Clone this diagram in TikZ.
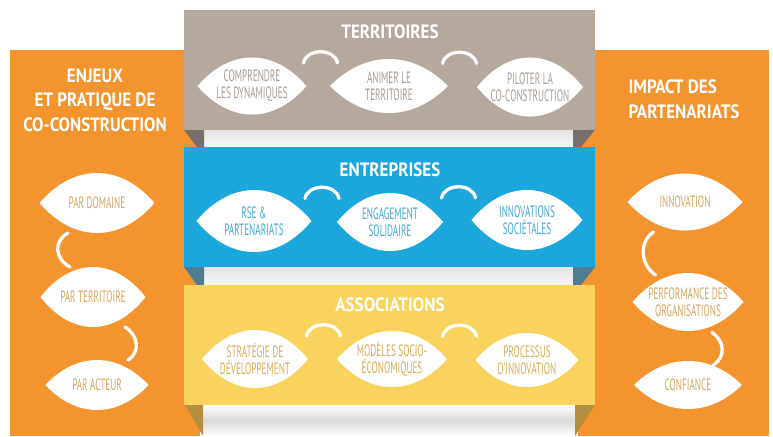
\documentclass[tikz,border=0pt]{standalone}
\usepackage{fontspec}
\newfontfamily\titlefont[FakeStretch=0.88]{PT Sans}
\newfontfamily\leaffont[FakeStretch=0.56]{PT Sans}
\usetikzlibrary{calc}
\definecolor{panelorange}{HTML}{F3942F}
\definecolor{terrgrey}{HTML}{B5A99D}
\definecolor{terrfold}{HTML}{77706A}
\definecolor{terrtext}{HTML}{A89E94}
\definecolor{entblue}{HTML}{1BA7DB}
\definecolor{entfold}{HTML}{4E7C90}
\definecolor{enttext}{HTML}{45A9D5}
\definecolor{assoyellow}{HTML}{FAD35E}
\definecolor{assofold}{HTML}{B48F3F}
\definecolor{assotext}{HTML}{D8AD55}
\definecolor{sidetext}{HTML}{D8A562}
\def\pxu{0.03cm}

\begin{document}
\begin{tikzpicture}[x=0.03cm,y=-0.03cm,
  title/.style={text=white,font=\titlefont\bfseries\fontsize{16.5}{21}\selectfont,align=center},
  leaf/.style 2 args={minimum width=#1*\pxu,minimum height=#2*\pxu,inner sep=0pt,align=center,
    font=\leaffont\fontsize{14}{14.5}\selectfont,
    path picture={\fill[white] ($(path picture bounding box.center)+(-#1/2,0)$)
      .. controls +(0.3*#1,-0.667*#2) and +(-0.3*#1,-0.667*#2) .. ($(path picture bounding box.center)+(#1/2,0)$)
      .. controls +(-0.3*#1,0.667*#2) and +(0.3*#1,0.667*#2) .. ($(path picture bounding box.center)+(-#1/2,0)$);}},
  link/.style={white,line width=2.8pt,line cap=round},
  gap/.style={top color=gray!22,bottom color=gray!6}]

\fill[white] (0,0) rectangle (773,436);
\useasboundingbox (0,0) rectangle (773,436);

% side panels
\fill[panelorange] (10,50) rectangle (200,436);
\fill[panelorange] (578,50) rectangle (769,436);

% shadows and folds behind the bands
\shade[gap] (204,130) rectangle (573,147);
\shade[gap] (204,267) rectangle (573,285);
\shade[top color=white,bottom color=white,middle color=gray!30] (202,405) rectangle (575,436);
\fill[terrfold] (184,130) -- (204,130) -- (204,147) -- (197,147) -- cycle;
\fill[terrfold] (573,130) -- (595,130) -- (581,147) -- (573,147) -- cycle;
\fill[entfold] (184,267) -- (204,267) -- (204,285) -- (197,285) -- cycle;
\fill[entfold] (573,267) -- (595,267) -- (581,285) -- (573,285) -- cycle;
\fill[assofold] (185,405) -- (203,405) -- (203,436) -- cycle;
\fill[assofold] (575,405) -- (595,405) -- (575,436) -- cycle;

% bands
\fill[terrgrey] (184,10) rectangle (595,130);
\fill[entblue] (184,147) rectangle (595,267);
\fill[assoyellow] (184,285) rectangle (595,405);

% titles
\node[title] (territoires) at (390,32) {TERRITOIRES};
\node[title] (entreprises) at (390,170) {ENTREPRISES};
\node[title] (associations) at (390,305) {ASSOCIATIONS};
\node[title] (enjeux) at (95,100) {ENJEUX\\ET PRATIQUE DE\\CO-CONSTRUCTION};
\node[title,align=left] (impact) at (684,99) {IMPACT DES\\PARTENARIATS};

% leaves
\begin{scope}[text=terrtext]
\node[leaf={109}{57}] (comprendre) at (252,86) {COMPRENDRE\\LES DYNAMIQUES};
\node[leaf={118}{54}] (animer) at (389,86) {ANIMER LE\\TERRITOIRE};
\node[leaf={106}{59}] (piloter) at (530,87) {PILOTER LA\\CO-CONSTRUCTION};
\end{scope}
\begin{scope}[text=enttext]
\node[leaf={115}{62}] (rse) at (254,221) {RSE \&\\PARTENARIATS};
\node[leaf={106}{58}] (engagement) at (390,222) {ENGAGEMENT\\SOLIDAIRE};
\node[leaf={111}{60}] (innovsoc) at (527,220) {INNOVATIONS\\SOCIÉTALES};
\end{scope}
\begin{scope}[text=assotext]
\node[leaf={106}{58}] (strategie) at (255,359) {STRATÉGIE DE\\DÉVELOPPEMENT};
\node[leaf={110}{56}] (modeles) at (392,359) {MODÈLES SOCIO-\\ÉCONOMIQUES};
\node[leaf={103}{54}] (processus) at (527,360) {PROCESSUS\\D'INNOVATION};
\end{scope}
\begin{scope}[text=sidetext]
\node[leaf={115}{60}] (domaine) at (97,203) {PAR DOMAINE};
\node[leaf={105}{60}] (territoire) at (93,297) {PAR TERRITOIRE};
\node[leaf={103}{50}] (acteur) at (97,385) {PAR ACTEUR};
\node[leaf={115}{57}] (innovation) at (685,202) {INNOVATION};
\node[leaf={111}{58}] (performance) at (688,302) {PERFORMANCE DES\\ORGANISATIONS};
\node[leaf={108}{48}] (confiance) at (688,385) {CONFIANCE};
\end{scope}

% links
\foreach \a/\b in {comprendre/animer,animer/piloter,rse/engagement,engagement/innovsoc,strategie/modeles,modeles/processus}
  \draw[link] ($(\a.center)!0.5!(\b.center)+(-17,-23)$) .. controls +(3,-15) and +(-3,-15) .. ($(\a.center)!0.5!(\b.center)+(17,-23)$);
\draw[link] ($(domaine.center)!0.5!(territoire.center)+(-27,-17)$) .. controls +(-15,8) and +(-15,-8) .. ($(domaine.center)!0.5!(territoire.center)+(-25,17)$);
\draw[link] ($(territoire.center)!0.5!(acteur.center)+(30,-14)$) .. controls +(13,8) and +(13,-8) .. ($(territoire.center)!0.5!(acteur.center)+(33,19)$);
\draw[link] ($(innovation.center)!0.5!(performance.center)+(-33,-20)$) .. controls +(-15,10) and +(-15,-10) .. ($(innovation.center)!0.5!(performance.center)+(-31,23)$);
\draw[link] ($(performance.center)!0.5!(confiance.center)+(24,-11)$) .. controls +(13,9) and +(13,-9) .. ($(performance.center)!0.5!(confiance.center)+(25,22)$);
\end{tikzpicture}
\end{document}
